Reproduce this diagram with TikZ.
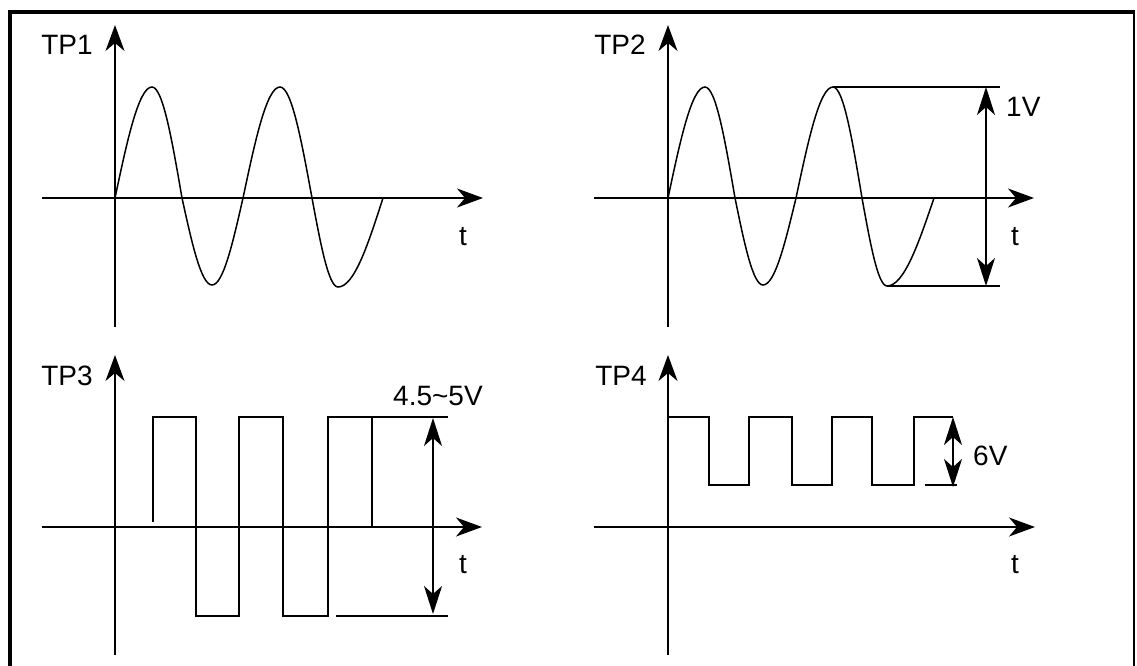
\documentclass[tikz,border=0pt]{standalone}
\usepackage{fontspec}
\setmainfont{Liberation Sans}
\usetikzlibrary{arrows.meta}
\tikzset{
  axis/.style={line width=1.6pt, -{Stealth[length=26pt,width=19pt,inset=8pt]}},
  dim/.style={line width=1.6pt, {Stealth[length=28pt,width=18pt,inset=8pt]}-{Stealth[length=28pt,width=18pt,inset=8pt]}},
  wave/.style={line width=1.5pt, line join=miter},
  guide/.style={line width=1.5pt},
  lbl/.style={inner sep=0pt, anchor=base, font=\fontsize{28}{30}\selectfont},
  lblw/.style={inner sep=0pt, anchor=base west, font=\fontsize{28}{30}\selectfont},
}
\begin{document}
\begin{tikzpicture}[x=1pt,y=-1pt]
\useasboundingbox (0,0) rectangle (1137,666);
% frame
\draw[line width=3.8pt] (10,666) -- (10,11.8);
\draw[line width=3.8pt] (8.1,11.8) -- (1135.3,11.8);
\draw[line width=2.6pt] (1134,10) -- (1134,666);

% ---------- TP1 ----------
\coordinate (a1b) at (115,327); \coordinate (a1t) at (115,25);
\coordinate (x1l) at (42,198);  \coordinate (x1r) at (483,198);
\draw[axis] (a1b) -- (a1t);
\draw[axis] (x1l) -- (x1r);
\node[lbl] (tp1) at (67,55) {TP1};
\node[lbl] (t1) at (463,245) {t};
\draw[wave] (115,198) sin (152,87) cos (182,198) sin (212,285) cos (243,198)
  sin (280,87) cos (312,198) sin (338,287) cos (383,198);

% ---------- TP2 ----------
\coordinate (a2b) at (668,327); \coordinate (a2t) at (668,25);
\coordinate (x2l) at (594,198);  \coordinate (x2r) at (1034,198);
\draw[axis] (a2b) -- (a2t);
\draw[axis] (x2l) -- (x2r);
\node[lbl] (tp2) at (620,55) {TP2};
\node[lbl] (t2) at (1015,245) {t};
\draw[wave] (668,198) sin (705,87) cos (735,198) sin (763,285) cos (796,198)
  sin (833,87) cos (862,198) sin (887,286) cos (934,198);
\coordinate (g2a) at (833,87);  \coordinate (g2b) at (1000,87);
\coordinate (g2c) at (887,286); \coordinate (g2d) at (1000,286);
\draw[guide] (g2a) -- (g2b);
\draw[guide] (g2c) -- (g2d);
\coordinate (d2t) at (986,87); \coordinate (d2b) at (986,286);
\draw[dim] (d2t) -- (d2b);
\node[lblw] (v2) at (1006,117) {1V};

% ---------- TP3 ----------
\coordinate (a3b) at (115,655); \coordinate (a3t) at (115,355);
\coordinate (x3l) at (42,527);  \coordinate (x3r) at (482,527);
\draw[axis] (a3b) -- (a3t);
\draw[axis] (x3l) -- (x3r);
\node[lbl] (tp3) at (67,385) {TP3};
\node[lbl] (t3) at (463,573) {t};
\draw[wave] (153,522) -- (153,417) -- (196,417) -- (196,616) -- (239,616)
  -- (239,417) -- (283,417) -- (283,616) -- (328,616) -- (328,417)
  -- (372,417) -- (372,527);
\coordinate (g3a) at (372,417); \coordinate (g3b) at (448,417);
\coordinate (g3c) at (336,616); \coordinate (g3d) at (448,616);
\draw[guide] (g3a) -- (g3b);
\draw[guide] (g3c) -- (g3d);
\coordinate (d3t) at (433,418); \coordinate (d3b) at (433,614);
\draw[dim] (d3t) -- (d3b);
\node[lblw] (v3) at (393,405) {4.5\textasciitilde5V};

% ---------- TP4 ----------
\coordinate (a4b) at (668,655); \coordinate (a4t) at (668,355);
\coordinate (x4l) at (594,527);  \coordinate (x4r) at (1035,527);
\draw[axis] (a4b) -- (a4t);
\draw[axis] (x4l) -- (x4r);
\node[lbl] (tp4) at (621,385) {TP4};
\node[lbl] (t4) at (1015,573) {t};
\draw[wave] (668,417) -- (709,417) -- (709,485) -- (749,485) -- (749,417)
  -- (792,417) -- (792,485) -- (832,485) -- (832,417) -- (872,417)
  -- (872,485) -- (914,485) -- (914,417) -- (953,417);
\coordinate (g4a) at (925,485); \coordinate (g4b) at (957,485);
\draw[guide] (g4a) -- (g4b);
\coordinate (d4t) at (953,417); \coordinate (d4b) at (953,487);
\draw[dim] (d4t) -- (d4b);
\node[lblw] (v4) at (973,465) {6V};
\end{tikzpicture}
\end{document}
